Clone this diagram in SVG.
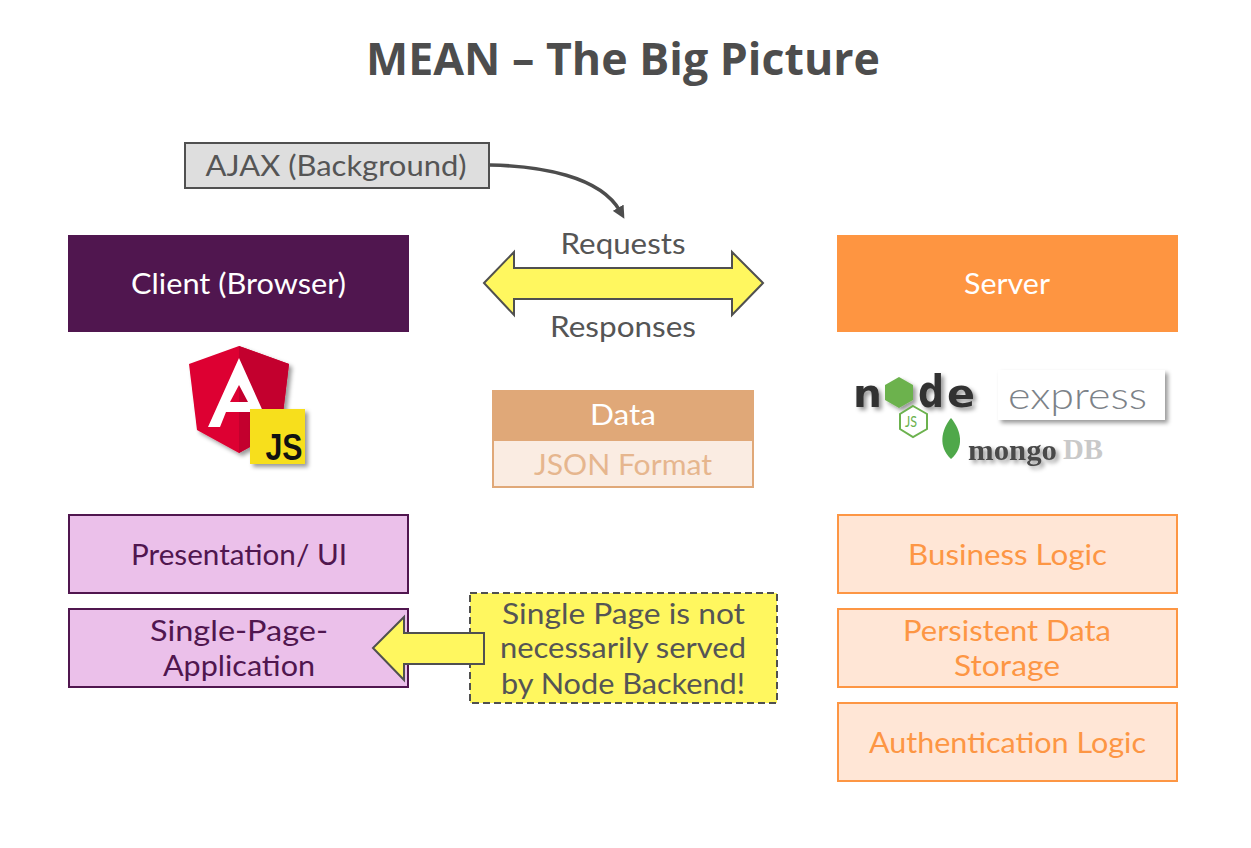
<svg xmlns="http://www.w3.org/2000/svg" width="1251" height="848" viewBox="0 0 1251 848">
<style>
text{font-family:"Lato","Open Sans","Liberation Sans",sans-serif;font-size:28px;text-anchor:middle;fill:#555}
.pk{fill:#ebc0ea;stroke:#50164f;stroke-width:2}
.pt{fill:#50164f}
.or{fill:#ffe6d6;stroke:#fd9644;stroke-width:2}
.ot{fill:#fd9644}
.w{fill:#fff}
.y{fill:#fff75f;stroke:#505050;stroke-width:2}
.lg{font-family:"DejaVu Sans",sans-serif;font-weight:700;fill:#333}
</style>
<defs>
<filter id="sh" x="-20%" y="-20%" width="150%" height="150%"><feDropShadow dx="3" dy="3" stdDeviation="2" flood-color="#000" flood-opacity=".4"/></filter>
<marker id="ah" viewBox="0 0 10 10" refX="3" refY="5" markerWidth="3.600" markerHeight="3.600" orient="auto"><path d="M0 0L10 5L0 10Z" fill="#4d4d4d"/></marker>
</defs>
<rect width="1251" height="848" fill="#fff"/>
<text id="title" x="623" y="75" textLength="514" lengthAdjust="spacingAndGlyphs" style="font-family:'Open Sans','Liberation Sans',sans-serif;font-size:44px;font-weight:700;fill:#4d4d4d">MEAN – The Big Picture</text>

<g id="connectors">
<path d="M490 165C540 166 600 176 620 211" fill="none" stroke="#4d4d4d" stroke-width="3.500" marker-end="url(#ah)"/>
</g>

<g id="ajax"><rect x="185" y="143" width="304" height="45" fill="#dedede" stroke="#505050" stroke-width="2"/><text x="336" y="176" textLength="261" lengthAdjust="spacingAndGlyphs">AJAX (Background)</text></g>
<g id="client"><rect x="68" y="235" width="341" height="97" fill="#50164f"/><text class="w" x="238.500" y="294" textLength="215" lengthAdjust="spacingAndGlyphs">Client (Browser)</text></g>
<g id="server"><rect x="837" y="235" width="341" height="97" fill="#fe9541"/><text class="w" x="1007" y="294" textLength="86" lengthAdjust="spacingAndGlyphs">Server</text></g>

<g id="exchange">
<path class="y" d="M484 283L514 252V268H732V252L763 283L732 315V299H514V315Z"/>
<text x="623" y="254" textLength="125" lengthAdjust="spacingAndGlyphs">Requests</text>
<text x="623" y="337" textLength="146" lengthAdjust="spacingAndGlyphs">Responses</text>
</g>

<g id="angular-js">
<g filter="url(#sh)">
<path d="M239 346L189 364L197 430L239 453L281 430L289 364Z" fill="#dd0031"/>
<path d="M239 346V453L281 430L289 364Z" fill="#c3002f"/>
<path d="M239 358L208 427H220L226 412H252L258 427H270ZM239 385L248 402H230Z" fill="#fff" fill-rule="evenodd"/>
</g>
<rect x="250" y="409" width="55" height="55" fill="#f7df1e" filter="url(#sh)"/>
<text x="284" y="460" style="font-family:'Liberation Sans',sans-serif;font-size:37px;font-weight:700;fill:#111" textLength="37" lengthAdjust="spacingAndGlyphs">JS</text>
</g>

<g id="data">
<rect x="492" y="390" width="262" height="50" fill="#e0a878"/>
<rect x="493" y="440" width="260" height="47" fill="#faece2" stroke="#e0a878" stroke-width="2"/>
<text class="w" x="623" y="425" textLength="66" lengthAdjust="spacingAndGlyphs">Data</text>
<text x="623" y="475" textLength="178" lengthAdjust="spacingAndGlyphs" style="fill:#e6b68e">JSON Format</text>
</g>

<g id="node-express-mongo">
<g filter="url(#sh)">
<text class="lg" x="867.500" y="407" style="font-size:38px" textLength="29" lengthAdjust="spacingAndGlyphs">n</text>
<path d="M899 377L913 385V400L899 408L885 400V385Z" fill="#6cb24e"/>
<text class="lg" x="931" y="407" style="font-size:44px" textLength="26" lengthAdjust="spacingAndGlyphs">d</text>
<text class="lg" x="961" y="407" style="font-size:38px" textLength="28" lengthAdjust="spacingAndGlyphs">e</text>
</g>
<path d="M913 406L927 414V429L913 437L900 429V414Z" fill="#fff" stroke="#6cb24e" stroke-width="2"/>
<text x="911" y="427" style="font-size:15px;fill:#6cb24e" textLength="12" lengthAdjust="spacingAndGlyphs">JS</text>
<rect x="998" y="370" width="167" height="50" fill="#fff" filter="url(#sh)"/>
<text x="1077.500" y="409" textLength="139" lengthAdjust="spacingAndGlyphs" style="font-size:38px;font-weight:300;fill:#7c8288">express</text>
<path d="M951 418C961 430 965 447 951 459C938 447 941 430 951 418Z" fill="#4fa84a"/>
<text x="1012.500" y="460" textLength="89" lengthAdjust="spacingAndGlyphs" style="font-family:'Liberation Serif',serif;font-size:30px;font-weight:700;fill:#4a4a4a;filter:url(#sh)">mongo</text>
<text x="1083" y="459" textLength="40" lengthAdjust="spacingAndGlyphs" style="font-family:'Liberation Serif',serif;font-size:29px;font-weight:700;fill:#c9c9c9">DB</text>
</g>

<g id="presentation"><rect class="pk" x="69" y="515" width="339" height="78"/><text class="pt" x="239" y="565" textLength="216" lengthAdjust="spacingAndGlyphs">Presentation/ UI</text></g>
<g id="spa"><rect class="pk" x="69" y="609" width="339" height="78"/><text class="pt" x="239" y="641" textLength="178" lengthAdjust="spacingAndGlyphs">Single-Page-</text><text class="pt" x="239" y="676" textLength="152" lengthAdjust="spacingAndGlyphs">Application</text></g>

<g id="note">
<rect x="470" y="593" width="307" height="110" fill="#fff75f" stroke="#505050" stroke-width="2" stroke-dasharray="7 4"/>
<text x="623.500" y="624" textLength="243" lengthAdjust="spacingAndGlyphs">Single Page is not</text>
<text x="623" y="658" textLength="246" lengthAdjust="spacingAndGlyphs">necessarily served</text>
<text x="623" y="694" textLength="244" lengthAdjust="spacingAndGlyphs">by Node Backend!</text>
</g>
<g id="note-arrow"><path d="M484 633H404V617L373 648L404 680V664H484Z" fill="#fff75f" stroke="#505050" stroke-width="2"/></g>

<g id="business"><rect class="or" x="838" y="515" width="339" height="78"/><text class="ot" x="1007.500" y="565" textLength="199" lengthAdjust="spacingAndGlyphs">Business Logic</text></g>
<g id="storage"><rect class="or" x="838" y="609" width="339" height="78"/><text class="ot" x="1007" y="641" textLength="208" lengthAdjust="spacingAndGlyphs">Persistent Data</text><text class="ot" x="1007" y="676" textLength="106" lengthAdjust="spacingAndGlyphs">Storage</text></g>
<g id="auth"><rect class="or" x="838" y="703" width="339" height="78"/><text class="ot" x="1007.500" y="753" textLength="277" lengthAdjust="spacingAndGlyphs">Authentication Logic</text></g>
</svg>
